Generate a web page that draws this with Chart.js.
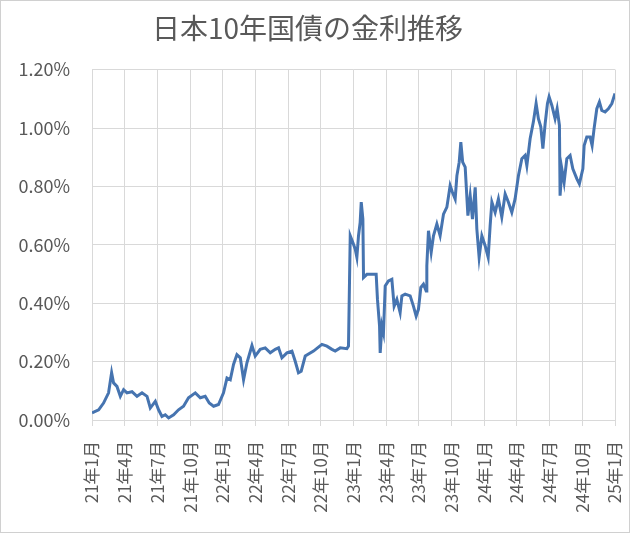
<!DOCTYPE html>
<html>
<head>
<meta charset="utf-8">
<script src="https://cdn.jsdelivr.net/npm/chart.js@4/dist/chart.umd.min.js"></script>
<style>
  body { margin: 0; background: #fff; }
  #chart { display: block; }
</style>
</head>
<body>
<canvas id="chart" width="630" height="533"></canvas>
<script>
// months since 2021-01
const months = [
  0.00, 0.61, 1.06, 1.52, 1.80, 1.98, 2.29, 2.60, 2.90, 3.21,
  3.67, 4.13, 4.59, 5.05, 5.35, 5.81, 6.11, 6.42, 6.72, 7.03,
  7.49, 7.94, 8.40, 8.86, 9.48, 9.94, 10.39, 10.76, 11.16, 11.61,
  12.07, 12.39, 12.69, 12.99, 13.30, 13.61, 13.91, 14.22, 14.68, 14.98,
  15.44, 15.90, 16.36, 16.82, 17.12, 17.43, 17.89, 18.35, 18.65, 18.95,
  19.20, 19.57, 20.33, 21.10, 21.56, 22.02, 22.32, 22.78, 23.39, 23.54,
  23.70, 23.94, 24.16, 24.31, 24.46, 24.61, 24.71, 24.86, 24.92, 25.23,
  25.69, 26.08, 26.20, 26.39, 26.45, 26.61, 26.75, 26.91, 27.21, 27.52,
  27.73, 27.98, 28.28, 28.44, 28.74, 29.20, 29.50, 29.75, 29.96, 30.18,
  30.42, 30.67, 30.73, 30.88, 31.13, 31.34, 31.65, 31.95, 32.26, 32.57,
  32.87, 33.08, 33.33, 33.49, 33.70, 33.85, 34.02, 34.25, 34.50, 34.71,
  34.92, 35.17, 35.32, 35.53, 35.78, 36.08, 36.36, 36.54, 36.70, 37.00,
  37.30, 37.61, 37.92, 38.22, 38.53, 38.83, 39.14, 39.45, 39.75, 39.91,
  40.21, 40.51, 40.76, 40.97, 41.19, 41.38, 41.59, 41.80, 41.95, 42.20,
  42.50, 42.69, 42.90, 42.96, 43.12, 43.33, 43.58, 43.88, 44.13, 44.50,
  44.73, 45.05, 45.17, 45.41, 45.72, 45.90, 46.08, 46.33, 46.57, 46.79,
  47.09, 47.39, 47.71, 48.00,
]
// 10-year JGB yield, %
const yields = [
  0.024, 0.035, 0.058, 0.093, 0.162, 0.127, 0.115, 0.081, 0.104, 0.093,
  0.097, 0.081, 0.093, 0.081, 0.041, 0.064, 0.035, 0.012, 0.018, 0.007,
  0.018, 0.035, 0.047, 0.076, 0.093, 0.076, 0.081, 0.058, 0.047, 0.053,
  0.093, 0.144, 0.138, 0.190, 0.224, 0.213, 0.138, 0.196, 0.255, 0.219,
  0.242, 0.247, 0.230, 0.242, 0.247, 0.213, 0.230, 0.236, 0.201, 0.162,
  0.167, 0.219, 0.236, 0.259, 0.253, 0.242, 0.236, 0.247, 0.244, 0.253,
  0.631, 0.608, 0.585, 0.557, 0.631, 0.677, 0.746, 0.688, 0.488, 0.499,
  0.499, 0.499, 0.413, 0.322, 0.230, 0.322, 0.299, 0.459, 0.476, 0.482,
  0.390, 0.413, 0.368, 0.425, 0.431, 0.425, 0.390, 0.356, 0.379, 0.454,
  0.465, 0.442, 0.528, 0.648, 0.574, 0.631, 0.671, 0.631, 0.705, 0.729,
  0.803, 0.780, 0.757, 0.837, 0.883, 0.952, 0.883, 0.866, 0.700, 0.768,
  0.688, 0.797, 0.654, 0.557, 0.631, 0.597, 0.557, 0.665, 0.746, 0.711,
  0.757, 0.695, 0.774, 0.746, 0.711, 0.757, 0.837, 0.895, 0.906, 0.871,
  0.963, 1.021, 1.084, 1.032, 1.004, 0.929, 1.015, 1.084, 1.107, 1.078,
  1.032, 1.066, 1.009, 0.768, 0.860, 0.814, 0.895, 0.906, 0.860, 0.826,
  0.809, 0.860, 0.940, 0.969, 0.969, 0.940, 0.998, 1.066, 1.089, 1.060,
  1.055, 1.066, 1.084, 1.118,
]
const tickLabels = [
  '21年1月', '21年4月', '21年7月', '21年10月',
  '22年1月', '22年4月', '22年7月', '22年10月',
  '23年1月', '23年4月', '23年7月', '23年10月',
  '24年1月', '24年4月', '24年7月', '24年10月',
  '25年1月',
]

const font = '"Noto Sans CJK JP", "Noto Sans", sans-serif'
const textColor = '#595959'
const gridColor = '#d9d9d9'

const frame = {
  id: 'frame',
  beforeDraw: (chart) => {
    const { ctx, width, height } = chart
    ctx.save()
    ctx.fillStyle = '#fff'
    ctx.fillRect(0, 0, width, height)
    ctx.strokeStyle = '#d0d0d0'
    ctx.lineWidth = 1
    ctx.strokeRect(0.5, 0.5, width - 1, height - 1)
    ctx.restore()
  },
}

new Chart(document.getElementById('chart'), {
  type: 'line',
  data: {
    datasets: [{
      data: months.map((m, i) => ({ x: m, y: yields[i] })),
      borderColor: '#4674b0',
      borderWidth: 3,
      pointRadius: 0,
      tension: 0,
      fill: false,
    }],
  },
  options: {
    responsive: false,
    animation: false,
    layout: { padding: { left: 0, right: 15, top: 0, bottom: 0 } },
    plugins: {
      legend: { display: false },
      tooltip: { enabled: false },
      title: {
        display: true,
        text: '日本10年国債の金利推移',
        color: textColor,
        font: { family: font, size: 28, weight: 'normal' },
        padding: { top: 12, bottom: 24 },
      },
    },
    scales: {
      x: {
        type: 'linear',
        min: 0,
        max: 48,
        afterBuildTicks: (scale) => {
          scale.ticks = tickLabels.map((_, i) => ({ value: i * 3 }))
        },
        afterFit: (scale) => {
          scale.height = 113
          scale.paddingLeft = 0
          scale.paddingRight = 0
        },
        grid: { color: gridColor, tickLength: 6, tickColor: gridColor },
        border: { color: gridColor },
        ticks: {
          color: textColor,
          font: { family: font, size: 17 },
          minRotation: 90,
          maxRotation: 90,
          autoSkip: false,
          padding: 15,
          callback: (v) => tickLabels[Math.round(v / 3)],
        },
      },
      y: {
        min: 0,
        max: 1.2,
        afterFit: (scale) => { scale.width = 92 },
        grid: { color: gridColor, drawTicks: false },
        border: { display: false },
        ticks: {
          stepSize: 0.2,
          color: textColor,
          font: { family: font, size: 18 },
          padding: 22,
          callback: (v) => `${v.toFixed(2)}%`,
        },
      },
    },
  },
  plugins: [frame],
})
</script>
</body>
</html>
